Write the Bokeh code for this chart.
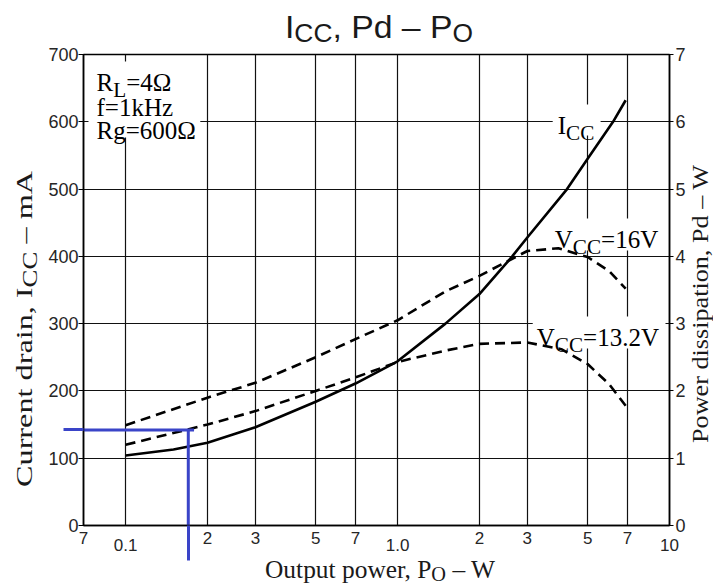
import math
from bokeh.plotting import figure
from bokeh.layouts import column, row
from bokeh.models import Range1d, LinearAxis, LogAxis, FixedTicker, Label, BoxAnnotation, Div
from bokeh.embed import file_html
from bokeh.resources import INLINE

# ---------------- data ----------------
po_icc = [0.1, 0.15, 0.2, 0.3, 0.5, 0.7, 1.0, 1.5, 2.0, 2.64, 3.0, 4.2, 5.0, 6.2, 6.9]
icc_ma = [104, 113, 123, 146, 184, 211, 244, 300, 344, 400, 428, 500, 545, 600, 632]

po_16v = [0.1, 0.2, 0.3, 0.5, 0.7, 1.0, 1.5, 2.0, 3.0, 3.9, 5.0, 6.0, 6.9]
pd_16v = [1.49, 1.90, 2.12, 2.50, 2.77, 3.05, 3.48, 3.71, 4.08, 4.12, 3.99, 3.78, 3.52]

po_13v = [0.1, 0.2, 0.3, 0.5, 0.7, 1.0, 1.5, 2.0, 3.0, 4.0, 5.0, 6.0, 6.9]
pd_13v = [1.20, 1.50, 1.70, 2.00, 2.20, 2.43, 2.60, 2.70, 2.72, 2.62, 2.40, 2.10, 1.78]

read_po = 0.17    # W   (blue read-off point)
read_icc = 142    # mA

x_ticks_upper = [0.07, 0.2, 0.3, 0.5, 0.7, 2, 3, 5, 7]
x_labels_upper = ["7", "2", "3", "5", "7", "2", "3", "5", "7"]
x_ticks_lower = [0.1, 1, 10]
x_labels_lower = ["0.1", "1.0", "10"]
x_grid = [0.1, 0.2, 0.3, 0.5, 0.7, 1, 2, 3, 5, 7]
y_ticks_ma = [0, 100, 200, 300, 400, 500, 600, 700]
y_ticks_w = [0, 1, 2, 3, 4, 5, 6, 7]

X0, X1 = 0.07, 10
Y0, Y1 = 0, 700
PD0, PD1 = 0, 7

# ---------------- page layout (pixels) ----------------
PAGE_W, PAGE_H = 713, 586
TOP_H = 44
MID_Y0, MID_Y1 = 44, 563
LEFT_W = 40
RIGHT_X = 688
FL, FR, FT, FB = 83, 670, 54, 525   # plot frame on the page

def px_x(px):
    return 10 ** (math.log10(X0) + (px - FL) / (FR - FL) * math.log10(X1 / X0))

def py_y(py):
    return Y0 + (FB - py) / (FB - FT) * (Y1 - Y0)

# ---------------- main figure ----------------
main_w = RIGHT_X - LEFT_W
main_h = MID_Y1 - MID_Y0
p = figure(width=main_w, height=main_h, x_axis_type="log",
           x_range=Range1d(X0, X1), y_range=Range1d(Y0, Y1),
           output_backend="svg", toolbar_location=None, title=None,
           min_border_left=FL - LEFT_W, min_border_right=RIGHT_X - FR,
           min_border_top=FT - MID_Y0, min_border_bottom=MID_Y1 - FB)
if hasattr(p, "frame_align"):
    p.frame_align = False
p.background_fill_color = "white"
p.border_fill_color = "white"
p.outline_line_color = "black"
p.outline_line_width = 1.5
p.extra_y_ranges = {"pd": Range1d(PD0, PD1)}

TICK_FONT = "Liberation Sans"
TICK_COLOR = "#262626"
BLUE = "#3a44c8"

# bottom axis: upper row of labels + blue read-off tick (minor tick)
xa = p.xaxis[0]
xa.ticker = FixedTicker(ticks=x_ticks_upper, minor_ticks=[read_po])
xa.major_label_overrides = {t: s for t, s in zip(x_ticks_upper, x_labels_upper)}
xa.major_tick_out = 0
xa.major_tick_in = 0
xa.minor_tick_in = 0
xa.minor_tick_out = 35
xa.minor_tick_line_color = BLUE
xa.minor_tick_line_width = 3
xa.major_label_standoff = -29
xa.axis_line_width = 1.5
xa.major_label_text_font_size = "17px"

# bottom axis: lower row of labels
xb = LogAxis(ticker=FixedTicker(ticks=x_ticks_lower),
             major_label_overrides={t: s for t, s in zip(x_ticks_lower, x_labels_lower)},
             axis_line_color=None, major_tick_line_color=None, minor_tick_line_color=None,
             major_tick_out=0, minor_tick_out=0, major_label_standoff=-8)
xb.major_label_text_font_size = "17px"
p.add_layout(xb, "below")

ya = p.yaxis[0]
ya.ticker = FixedTicker(ticks=y_ticks_ma, minor_ticks=[read_icc])
ya.major_tick_out = 5
ya.major_tick_in = 0
ya.minor_tick_in = 0
ya.minor_tick_out = 20
ya.minor_tick_line_color = BLUE
ya.minor_tick_line_width = 3
ya.major_label_standoff = -15
ya.axis_line_width = 1.5
ya.major_label_text_font_size = "18px"

yr = LinearAxis(y_range_name="pd", ticker=FixedTicker(ticks=y_ticks_w))
yr.major_tick_out = 4
yr.major_tick_in = 0
yr.minor_tick_line_color = None
yr.major_label_standoff = 2
yr.axis_line_width = 1.5
yr.major_label_text_font_size = "18px"
p.add_layout(yr, "right")

for ax in (xa, xb, ya, yr):
    ax.major_label_text_font = TICK_FONT
    ax.major_label_text_color = TICK_COLOR
    ax.major_label_text_font_style = "normal"

p.xgrid.ticker = FixedTicker(ticks=x_grid)
p.ygrid.ticker = FixedTicker(ticks=y_ticks_ma[1:-1])
for g in (p.xgrid, p.ygrid):
    g.grid_line_color = "#111111"
    g.grid_line_width = 1.2
    g.grid_line_alpha = 1.0

# white patches behind texts (over the grid, under the curves)
for (l, r, t, b) in [(88, 200, 61, 137), (553, 601, 104, 135),
                     (552, 666, 218, 250), (533, 666, 316, 348)]:
    p.add_layout(BoxAnnotation(left=px_x(l), right=px_x(r), top=py_y(t), bottom=py_y(b),
                               fill_color="white", fill_alpha=1.0, line_color=None,
                               level="underlay"))

# curves
p.line(po_icc, icc_ma, line_color="black", line_width=2.6)
p.line(po_16v, pd_16v, y_range_name="pd", line_color="black", line_width=2.6, line_dash="10 6")
p.line(po_13v, pd_13v, y_range_name="pd", line_color="black", line_width=2.6, line_dash="10 6")

# blue read-off lines inside the frame
p.segment(x0=[X0, read_po], y0=[read_icc, read_icc], x1=[read_po * 1.05, read_po], y1=[read_icc, Y0],
          line_color=BLUE, line_width=3)

# ---------------- texts inside the frame ----------------
SERIF_W = {' ': 250, ',': 250, '.': 250, '=': 564, '–': 500, 'A': 722, 'C': 667, 'I': 333,
           'L': 611, 'O': 722, 'P': 556, 'R': 667, 'V': 722, 'W': 944, 'H': 722, 'Ω': 768,
           'a': 444, 'c': 444, 'd': 500, 'e': 444, 'f': 333, 'g': 500, 'i': 278, 'k': 500,
           'm': 778, 'n': 500, 'o': 500, 'p': 500, 'r': 333, 's': 389, 't': 278, 'u': 500,
           'w': 722, 'z': 444}
SERIF = "Liberation Serif"
SANS = "Liberation Sans"

def tw(s, size, table):
    return sum(table.get(ch, 500) for ch in s) / 1000.0 * size

def rich(parts, px, py, size, sub_scale=0.85, sub_shift=0.3, color="black"):
    x, y = px_x(px), py_y(py)
    adv = 0.0
    for txt, sub in parts:
        fs = size * sub_scale if sub else size
        sh = size * sub_shift if sub else 0.0
        p.add_layout(Label(x=x, y=y, x_offset=adv, y_offset=-sh, text=txt,
                           text_font=SERIF, text_font_size=f"{fs:.1f}px", text_color=color,
                           text_align="left", text_baseline="alphabetic"))
        adv += tw(txt, fs, SERIF_W)

rich([("R", False), ("L", True), ("=4Ω", False)], 96, 82, 25)
rich([("f=1kHz", False)], 96, 107, 25)
rich([("Rg=600Ω", False)], 96, 130, 25)
rich([("I", False), ("CC", True)], 558, 125, 25)
rich([("V", False), ("CC", True), ("=16V", False)], 555, 239, 25)
rich([("V", False), ("CC", True), ("=13.2V", False)], 537, 337, 25)

# ---------------- titles outside the frame (SVG text inside Divs) ----------------
def svg_div(w, h, inner):
    html = (f'<svg xmlns="http://www.w3.org/2000/svg" width="{w}" height="{h}" '
            f'style="display:block;overflow:visible">{inner}</svg>')
    return Div(text=html, width=w, height=h, margin=0, styles={"overflow": "visible"})

TEXT_COLOR = "#1a1a1a"

def fstyle(family, size):
    return f"font-family:'{family}';font-size:{size}px;font-style:normal;font-weight:normal"

title_svg = (f'<text x="285" y="38" style="{fstyle(SANS, 32)}" fill="{TEXT_COLOR}" '
             f'textLength="188" lengthAdjust="spacingAndGlyphs">I'
             f'<tspan style="font-size:25px" dy="4">CC</tspan>'
             f'<tspan style="font-size:32px" dy="-4">, Pd – P</tspan>'
             f'<tspan style="font-size:25px" dy="4">O</tspan></text>')
top = svg_div(PAGE_W, TOP_H, title_svg)

lx, ly = 32, 329 - MID_Y0
left_svg = (f'<text x="{lx}" y="{ly}" transform="rotate(-90 {lx} {ly})" text-anchor="middle" '
            f'style="{fstyle(SERIF, 24)}" fill="{TEXT_COLOR}" '
            f'textLength="316" lengthAdjust="spacingAndGlyphs">Current drain, I'
            f'<tspan style="font-size:20px" dy="5">CC</tspan>'
            f'<tspan style="font-size:24px" dy="-5"> – mA</tspan></text>')
left = svg_div(LEFT_W, main_h, left_svg)

rx, ry = 708 - RIGHT_X, 304 - MID_Y0
right_svg = (f'<text x="{rx}" y="{ry}" transform="rotate(-90 {rx} {ry})" text-anchor="middle" '
             f'style="{fstyle(SERIF, 23)}" fill="{TEXT_COLOR}" '
             f'textLength="278" lengthAdjust="spacingAndGlyphs">Power dissipation, Pd – W</text>')
right = svg_div(PAGE_W - RIGHT_X, main_h, right_svg)

bot_h = PAGE_H - MID_Y1
bottom_svg = (f'<text x="265" y="{578 - MID_Y1}" style="{fstyle(SERIF, 25)}" '
              f'fill="{TEXT_COLOR}" textLength="230" lengthAdjust="spacingAndGlyphs">Output power, P'
              f'<tspan style="font-size:20px" dy="3">O</tspan>'
              f'<tspan style="font-size:25px" dy="-3"> – W</tspan></text>')
bottom = svg_div(PAGE_W, bot_h, bottom_svg)

layout = column(top, row(left, p, right), bottom)
open("out.html", "w").write(file_html(layout, INLINE))
